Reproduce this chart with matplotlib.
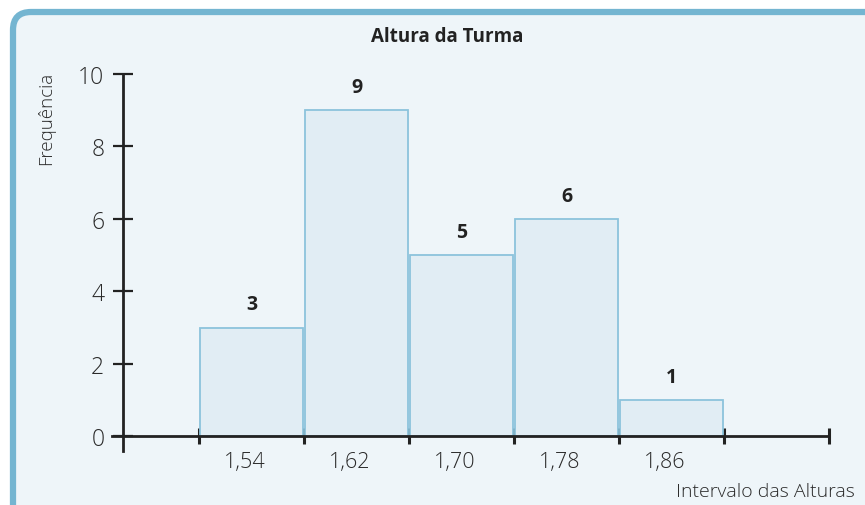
import matplotlib.pyplot as plt
import matplotlib.transforms as mtrans
from matplotlib.patches import FancyBboxPatch

# data
bordas = [1.50, 1.58, 1.66, 1.74, 1.82, 1.90]
rotulos = ['1,54', '1,62', '1,70', '1,78', '1,86']
freq = [3, 9, 5, 6, 1]

plt.rcParams['font.family'] = ['Open Sans', 'DejaVu Sans']
W, H = 865, 506
fig = plt.figure(figsize=(W / 100, H / 100), dpi=100)
fig.patch.set_facecolor('white')

# moldura arredondada (cortada na direita e embaixo), em pixels
moldura = FancyBboxPatch((13, -50), W + 50, H - 13 + 50,
                         boxstyle='round,pad=0,rounding_size=18',
                         transform=None, facecolor='#eef5f9',
                         edgecolor='#74b5d1', linewidth=4.5, zorder=-5)
fig.patches.append(moldura)

ax = fig.add_axes([112 / W, 1 - 452 / H, 717 / W, 377 / H])
ax.patch.set_alpha(0)

larg = 0.08
centros = [b + larg / 2 for b in bordas[:-1]]
ax.bar(centros, freq, width=larg * 0.975, color='#e1edf4',
       edgecolor='#8cc3dc', linewidth=1.3, zorder=2)
for c, f in zip(centros, freq):
    ax.text(c, f + 0.64, str(f), ha='center', va='center', fontsize=14,
            fontweight='bold', color='#222222')

ax.set_xlim(1.4336, 1.98)
ax.set_ylim(-0.41, 10)

for s in ['top', 'right']:
    ax.spines[s].set_visible(False)
ax.spines['left'].set_position(('data', 1.442))
ax.spines['bottom'].set_position(('data', 0))
ax.spines['left'].set_bounds(-0.41, 10)
for s in ['left', 'bottom']:
    ax.spines[s].set_linewidth(2)
    ax.spines[s].set_color('#222222')
    ax.spines[s].set_zorder(3)

ax.set_yticks([0, 2, 4, 6, 8, 10])
ax.tick_params(axis='y', direction='inout', length=15, width=1.6,
               color='#222222', labelsize=16.5, labelcolor='#2a2a2a', pad=6)
ax.set_xticks(bordas + [1.98])
ax.set_xticklabels([])
ax.set_xticks(centros, minor=True)
ax.set_xticklabels(rotulos, minor=True)
ax.tick_params(axis='x', which='major', direction='inout', length=11,
               width=2.2, color='#222222')
ax.tick_params(axis='x', which='minor', length=0, labelsize=15.5,
               labelcolor='#2a2a2a', pad=11)
desloc = mtrans.ScaledTranslation(-7 / 100, 0, fig.dpi_scale_trans)
for t in ax.get_xticklabels(minor=True):
    t.set_transform(t.get_transform() + desloc)
for t in ax.get_yticklabels() + ax.get_xticklabels(minor=True):
    t.set_fontweight('light')

fig.text(447 / W, 1 - 37 / H, 'Altura da Turma', ha='center', va='center',
         fontsize=13.5, fontweight='bold', color='#222222')
fig.text(46 / W, 1 - 118 / H, 'Frequência', ha='center', va='center',
         rotation=90, fontsize=13.5, fontweight='light', color='#2a2a2a')
fig.text(855 / W, 1 - 492 / H, 'Intervalo das Alturas', ha='right',
         va='center', fontsize=14, fontweight='light', color='#2a2a2a')

fig.savefig('out.png', dpi=100)
